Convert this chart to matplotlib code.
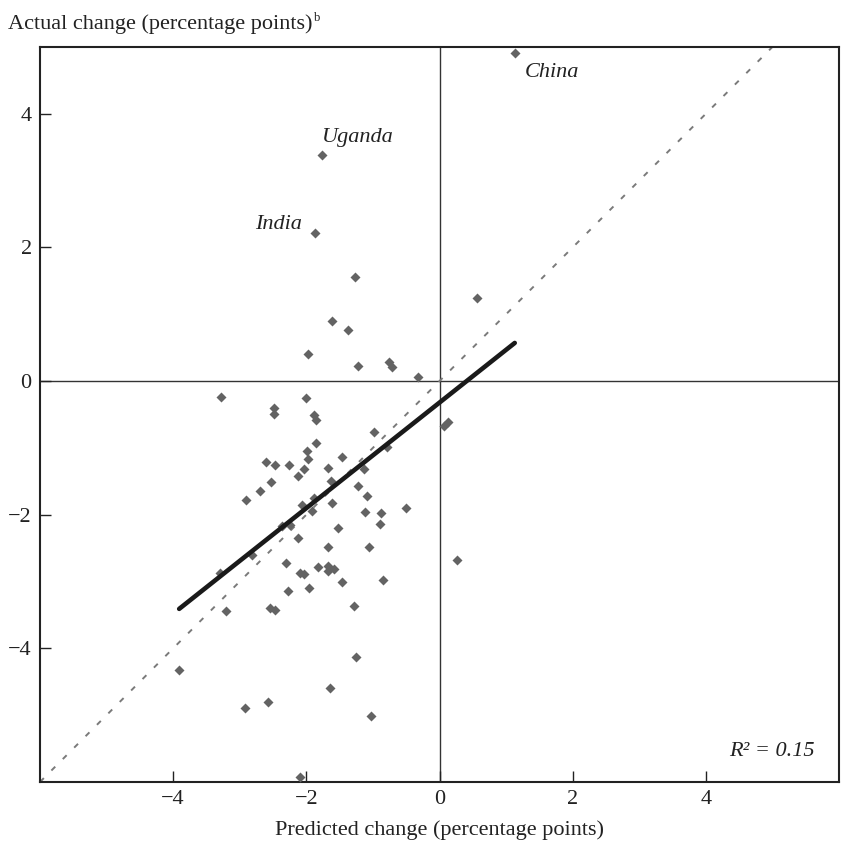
import matplotlib.pyplot as plt
import matplotlib as mpl

mpl.rcParams['font.family'] = ['Liberation Serif', 'DejaVu Serif']
mpl.rcParams['axes.unicode_minus'] = True

# predicted vs actual change (percentage points)
predicted = [1.13, -1.77, -1.87, -1.27, 0.56, -1.62, -1.37, -1.97, -1.23, -0.76,
             -0.71, -0.33, -3.28, -2.00, -2.49, -2.48, -1.89, -1.86, 0.06, 0.12,
             -0.99, -1.86, -0.79, -1.99, -1.98, -1.47, -2.60, -2.47, -2.26, -2.03,
             -1.67, -1.13, -2.12, -1.63, -2.53, -1.22, -2.69, -1.09, -1.89, -2.90,
             -1.62, -2.06, -0.51, -1.91, -1.12, -0.88, -0.90, -2.25, -2.37, -1.53,
             -2.12, -1.68, -1.06, -2.82, 0.26, -2.31, -1.83, -1.68, -1.58, -1.67,
             -2.10, -2.03, -3.30, -0.85, -1.46, -1.96, -2.27, -1.28, -2.54, -2.47,
             -3.21, -1.25, -3.91, -1.64, -2.57, -2.92, -1.03, -2.09]
actual = [4.91, 3.38, 2.22, 1.55, 1.25, 0.90, 0.77, 0.40, 0.23, 0.28,
          0.21, 0.06, -0.24, -0.26, -0.41, -0.50, -0.51, -0.59, -0.67, -0.62,
          -0.77, -0.93, -0.98, -1.05, -1.16, -1.13, -1.21, -1.25, -1.26, -1.31,
          -1.30, -1.32, -1.42, -1.50, -1.51, -1.57, -1.65, -1.72, -1.75, -1.78,
          -1.83, -1.86, -1.90, -1.94, -1.96, -1.97, -2.14, -2.16, -2.17, -2.20,
          -2.35, -2.49, -2.49, -2.61, -2.68, -2.73, -2.78, -2.77, -2.81, -2.85,
          -2.87, -2.89, -2.88, -2.98, -3.01, -3.09, -3.14, -3.37, -3.39, -3.43,
          -3.44, -4.13, -4.32, -4.59, -4.80, -4.90, -5.02, -5.93]

# labelled countries: (name, x, y, ha)
labels = [("China", 1.28, 4.61, "left"),
          ("Uganda", -1.77, 3.64, "left"),
          ("India", -2.06, 2.34, "right")]

fit_x = [-3.91, 1.13]
fit_y = [-3.41, 0.57]

ticks = [-4, -2, 0, 2, 4]

fig = plt.figure(figsize=(8.44, 8.47), dpi=100)
ax = fig.add_axes([0.0474, 0.0768, 0.9467, 0.8678])

ax.set_xlim(-6, 6)
ax.set_ylim(-6, 5)

# zero lines
ax.axhline(0, color='#333333', lw=1.0, zorder=1)
ax.axvline(0, color='#333333', lw=1.0, zorder=1)

# 45 degree line
ax.plot([-6, 5], [-6, 5], color='#7a7a7a', lw=1.4, dashes=(2.8, 5.5), zorder=2)

ax.plot(predicted, actual, 'D', color='#636363', markersize=4.8, mec='none', zorder=3)

ax.plot(fit_x, fit_y, color='#1a1a1a', lw=3.3, solid_capstyle='round', zorder=4)

for name, x, y, ha in labels:
    ax.text(x, y, name, style='italic', fontsize=16, color='#222222',
            ha=ha, va='center')

ax.text(5.63, -5.54, 'R\u00b2 = 0.15', style='italic', fontsize=16, color='#222222',
        ha='right', va='center')

ax.set_xticks(ticks)
ax.set_yticks(ticks)
ax.set_xticklabels(['\u2212' + str(-t) if t < 0 else str(t) for t in ticks])
ax.set_yticklabels(['\u2212' + str(-t) if t < 0 else str(t) for t in ticks])
ax.tick_params(direction='in', length=8, width=1, labelsize=16, colors='#222222',
               pad=6, top=False, right=False)

for sp in ax.spines.values():
    sp.set_linewidth(1.5)
    sp.set_color('#222222')

ax.set_xlabel('Predicted change (percentage points)', fontsize=16, color='#222222',
              labelpad=8)
fig.text(0.009, 0.972, 'Actual change (percentage points)', fontsize=16,
         color='#222222', ha='left', va='center')
fig.text(0.372, 0.979, 'b', fontsize=9, color='#222222', ha='left', va='center')

fig.savefig('out.png', dpi=100)
